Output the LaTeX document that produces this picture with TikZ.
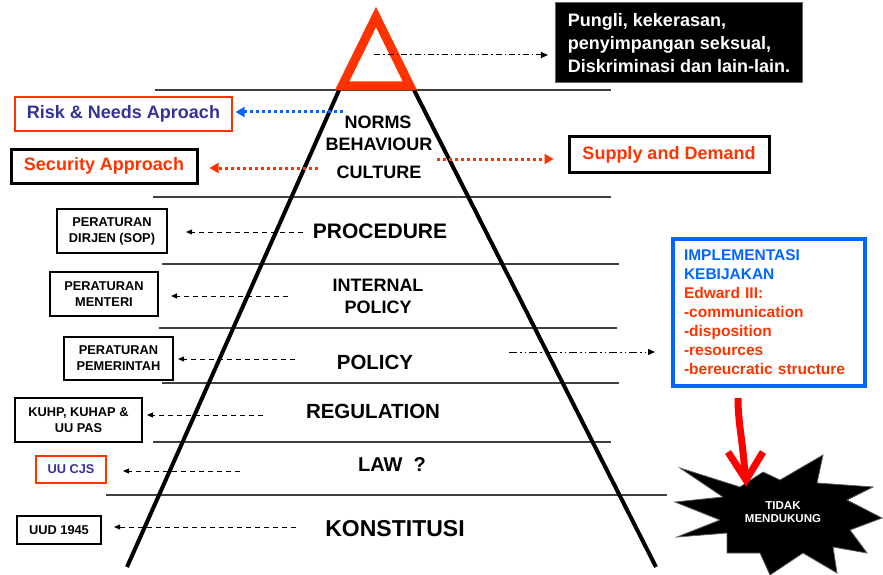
\documentclass[tikz,border=0pt]{standalone}
\usepackage{fontspec}
\setmainfont{Liberation Sans}
\usetikzlibrary{arrows.meta}
\definecolor{ored}{HTML}{FF3300}
\definecolor{dblue}{HTML}{333399}
\definecolor{bblue}{HTML}{0066FF}
\definecolor{lgray}{HTML}{404040}
\newcommand\fsz[2]{\fontsize{#1}{#2}\selectfont}
\tikzset{
  hline/.style={draw=lgray, line width=1.3pt},
  leg/.style={draw=black, line width=4pt},
  lvl/.style={font=\bfseries\fsz{18}{22}, align=center, inner sep=0pt},
  smallbox/.style={draw=black, line width=2pt, font=\bfseries\fsz{12.8}{16}, align=center, inner sep=0pt},
  bigbox/.style={draw=black, line width=3pt, font=\bfseries\fsz{18}{22}, inner sep=0pt},
  dasharrow/.style={-{Triangle[length=6pt,width=5pt]}, line width=1pt, dash pattern=on 5pt off 4pt},
  dotarrow/.style={-{Triangle[length=9pt,width=10pt]}, line width=3pt, dash pattern=on 3pt off 3pt},
  dasharrowdot/.style={-{Triangle[length=7pt,width=6pt]}, line width=1pt, dash pattern=on 6pt off 3pt on 1.5pt off 3pt},
  dasharrowdd/.style={-{Triangle[length=7pt,width=6pt]}, line width=1pt, dash pattern=on 8pt off 3pt on 1.5pt off 3pt on 1.5pt off 3pt},
}
\begin{document}
\begin{tikzpicture}[x=1pt,y=-1pt]
\useasboundingbox (0,0) rectangle (883,575);

% horizontal level lines
\draw[hline] (155,90) -- (611,90);
\draw[hline] (153,197) -- (611,197);
\draw[hline] (162,264) -- (619,264);
\draw[hline] (159,328) -- (617,328);
\draw[hline] (162,383) -- (619,383);
\draw[hline] (153,442) -- (611,442);
\draw[hline] (106,495) -- (667,495);

% pyramid legs
\draw[leg] (340,88) -- (127,567);
\draw[leg] (413,88) -- (656,567);

% red warning triangle
\draw[ored, line width=9pt, line join=miter] (376,17) -- (410,86) -- (342,86) -- cycle;

% level labels
\node[lvl] (norms) at (378,122) {NORMS};
\node[lvl] (behav) at (379,144) {BEHAVIOUR};
\node[lvl] (cult) at (379,172) {CULTURE};
\node[lvl, font=\bfseries\fsz{21}{24}] (proc) at (380,231) {PROCEDURE};
\node[lvl] (intp) at (378,296) {INTERNAL\\POLICY};
\node[lvl, font=\bfseries\fsz{20.5}{24}] (pol) at (375,362) {POLICY};
\node[lvl, font=\bfseries\fsz{20.5}{24}] (reg) at (373,411) {REGULATION};
\node[lvl, font=\bfseries\fsz{20}{24}] (law) at (392,465) {LAW~~?};
\node[lvl, font=\bfseries\fsz{23}{26}] (kons) at (395,529) {KONSTITUSI};

% top black box
\node[fill=black, draw=black!60, line width=1pt, text=white, align=left,
      font=\bfseries\fsz{18}{23}, inner xsep=12.5pt, minimum height=80pt] (pungli) at (679,43)
      {Pungli, kekerasan,\\penyimpangan seksual,\\Diskriminasi dan lain-lain.};

% approach boxes
\node[draw=ored, line width=1.3pt, text=dblue, font=\bfseries\fsz{18}{22}, inner sep=0pt,
      minimum width=217pt, minimum height=34pt] (risk) at (123.5,114) {\raisebox{-2pt}{Risk \& Needs Aproach}};
\node[bigbox, text=ored, minimum width=186pt, minimum height=34pt] (sec) at (104,166) {\raisebox{-2pt}{Security Approach}};
\node[bigbox, text=ored, minimum width=200pt, minimum height=35pt] (sup) at (669,154.5) {\raisebox{-2pt}{Supply and Demand}};

% regulation boxes
\node[smallbox, minimum width=110pt, minimum height=44pt] (dirjen) at (112,231) {PERATURAN\\DIRJEN (SOP)};
\node[smallbox, minimum width=108pt, minimum height=44pt] (menteri) at (104,294) {PERATURAN\\MENTERI};
\node[smallbox, minimum width=109pt, minimum height=43pt] (pemer) at (118.5,358.5) {PERATURAN\\PEMERINTAH};
\node[smallbox, minimum width=127pt, minimum height=44pt] (kuhp) at (78.5,420) {KUHP, KUHAP \&\\UU PAS};
\node[smallbox, draw=ored, text=dblue, minimum width=70pt, minimum height=27pt] (cjs) at (71,469.5) {UU CJS};
\node[smallbox, minimum width=84pt, minimum height=28pt] (uud) at (59,530) {UUD 1945};

% implementation box
\node[draw=bblue, line width=4pt, align=left, text width=170pt, inner xsep=11pt,
      minimum height=147pt, font=\bfseries\fsz{15.5}{19}] (impl) at (769,312.5)
      {\textcolor{bblue}{IMPLEMENTASI}\\\textcolor{bblue}{KEBIJAKAN}\\\textcolor{ored}{Edward III:}\\
       \textcolor{ored}{-communication}\\\textcolor{ored}{-disposition}\\\textcolor{ored}{-resources}\\
       \textcolor{ored}{-bereucratic structure}};

% arrow start points
\coordinate (sTop) at (374,55);
\coordinate (sRisk) at (343,112);
\coordinate (sSec) at (318,168);
\coordinate (sSup) at (437,159);
\coordinate (sDir) at (303,232);
\coordinate (sMen) at (288,296);
\coordinate (sPem) at (295,359);
\coordinate (sPol) at (509,352);
\coordinate (sKuhp) at (263,415);
\coordinate (sCjs) at (240,471);
\coordinate (sUud) at (296,527);

% connectors
\draw[dasharrowdot, shorten >=7pt] (sTop) -- (sTop -| pungli.west);
\draw[dotarrow, bblue, shorten >=3pt] (sRisk) -- (sRisk -| risk.east);
\draw[dotarrow, ored, shorten >=11pt] (sSec) -- (sSec -| sec.east);
\draw[dotarrow, ored, shorten >=14pt] (sSup) -- (sSup -| sup.west);
\draw[dasharrow, shorten >=18pt] (sDir) -- (sDir -| dirjen.east);
\draw[dasharrow, shorten >=12pt] (sMen) -- (sMen -| menteri.east);
\draw[dasharrow, shorten >=4pt] (sPem) -- (sPem -| pemer.east);
\draw[dasharrowdd, shorten >=16pt] (sPol) -- (sPol -| impl.west);
\draw[dasharrow, shorten >=4pt] (sKuhp) -- (sKuhp -| kuhp.east);
\draw[dasharrow, shorten >=16pt] (sCjs) -- (sCjs -| cjs.east);
\draw[dasharrow, shorten >=12pt] (sUud) -- (sUud -| uud.east);

% starburst
\fill[black, draw=black!65, line width=0.8pt, line join=miter]
  (763,472) -- (780,480) -- (823,455) -- (817,483) -- (873,487) -- (847,500) -- (882,518)
  -- (850,530) -- (867,553) -- (833,547) -- (837,573) -- (803,553) -- (770,575) -- (760,553)
  -- (727,553) -- (727,533) -- (677,537) -- (720,520) -- (675,502) -- (723,497) -- (680,468)
  -- (740,487) -- cycle;
\node[text=white, align=center, inner sep=0pt, font=\bfseries\fsz{11.5}{13.5}] (tidak) at (783,512)
  {TIDAK\\MENDUKUNG};

% red arrow
\draw[red, line width=7pt] (738,398) .. controls (738,425) and (743,440) .. (745,476);
\draw[red, line width=7pt, line join=miter] (728,452) -- (746,480) -- (763,452);
\end{tikzpicture}
\end{document}
